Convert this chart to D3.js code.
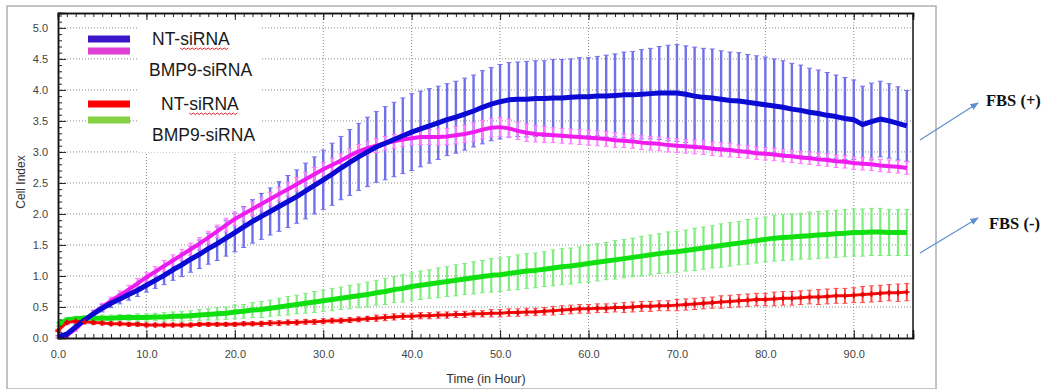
<!DOCTYPE html>
<html>
<head>
<meta charset="utf-8">
<script src="https://cdn.jsdelivr.net/npm/d3@7"></script>
<style>
  html, body { margin: 0; padding: 0; background: #fff; }
  svg { display: block; }
</style>
</head>
<body>
<svg id="chart" width="1052" height="389"></svg>
<script>
// ---------------- DATA ----------------
const hours = d3.range(0, 97, 1); // sampling time (h)

const ntPlusMean = [0.02,0.06,0.18,0.29,0.39,0.48,0.56,0.63,0.70,0.77,
  0.85,0.93,1.01,1.10,1.18,1.27,1.35,1.44,1.52,1.61,
  1.70,1.79,1.88,1.96,2.04,2.12,2.20,2.28,2.37,2.46,
  2.55,2.64,2.74,2.83,2.92,3.00,3.08,3.14,3.20,3.26,
  3.32,3.37,3.42,3.47,3.52,3.56,3.61,3.66,3.72,3.77,
  3.81,3.84,3.85,3.85,3.86,3.86,3.87,3.87,3.88,3.89,
  3.89,3.90,3.90,3.91,3.92,3.92,3.93,3.94,3.95,3.95,
  3.95,3.93,3.90,3.88,3.87,3.85,3.83,3.82,3.80,3.78,
  3.76,3.74,3.72,3.69,3.67,3.64,3.62,3.59,3.57,3.54,
  3.52,3.44,3.49,3.53,3.50,3.46,3.42];
const ntPlusErr = [0.02,0.03,0.03,0.04,0.05,0.06,0.07,0.08,0.09,0.10,
  0.11,0.13,0.15,0.17,0.19,0.21,0.23,0.25,0.27,0.29,
  0.31,0.33,0.35,0.37,0.38,0.40,0.42,0.43,0.45,0.46,
  0.48,0.50,0.51,0.53,0.54,0.56,0.57,0.59,0.60,0.61,
  0.62,0.61,0.60,0.59,0.58,0.58,0.58,0.58,0.59,0.59,
  0.60,0.60,0.60,0.61,0.61,0.61,0.62,0.62,0.62,0.63,
  0.63,0.64,0.66,0.67,0.69,0.70,0.72,0.73,0.75,0.77,
  0.78,0.78,0.79,0.79,0.79,0.78,0.78,0.78,0.77,0.77,
  0.77,0.76,0.75,0.74,0.73,0.71,0.70,0.69,0.67,0.66,
  0.64,0.62,0.62,0.61,0.60,0.59,0.57];

const bmpPlusMean = [0.01,0.04,0.15,0.28,0.40,0.50,0.60,0.69,0.78,0.88,
  0.98,1.07,1.16,1.25,1.34,1.43,1.52,1.62,1.72,1.82,
  1.92,2.00,2.08,2.16,2.24,2.32,2.40,2.48,2.56,2.64,
  2.72,2.79,2.86,2.94,3.01,3.06,3.10,3.14,3.17,3.20,
  3.22,3.24,3.24,3.24,3.25,3.27,3.29,3.32,3.36,3.39,
  3.40,3.38,3.34,3.31,3.29,3.28,3.27,3.26,3.25,3.24,
  3.23,3.22,3.21,3.19,3.18,3.17,3.15,3.14,3.13,3.11,
  3.10,3.09,3.08,3.07,3.05,3.04,3.03,3.01,3.00,2.98,
  2.97,2.96,2.94,2.93,2.91,2.90,2.88,2.87,2.85,2.84,
  2.82,2.81,2.80,2.78,2.77,2.76,2.74];
const bmpPlusErr = [0.02,0.03,0.04,0.05,0.05,0.06,0.06,0.07,0.07,0.08,
  0.08,0.08,0.09,0.09,0.09,0.10,0.10,0.10,0.10,0.11,
  0.11,0.11,0.11,0.11,0.11,0.11,0.11,0.11,0.11,0.11,
  0.11,0.11,0.11,0.11,0.11,0.11,0.11,0.11,0.11,0.11,
  0.11,0.12,0.12,0.13,0.13,0.14,0.14,0.15,0.15,0.15,
  0.15,0.15,0.14,0.14,0.13,0.13,0.12,0.12,0.12,0.12,
  0.12,0.12,0.12,0.12,0.11,0.11,0.11,0.11,0.11,0.11,
  0.11,0.11,0.11,0.11,0.11,0.11,0.11,0.10,0.10,0.10,
  0.10,0.10,0.10,0.10,0.10,0.10,0.10,0.10,0.10,0.10,
  0.10,0.10,0.10,0.10,0.10,0.10,0.10];

const ntMinusMean = [0.12,0.25,0.27,0.26,0.25,0.24,0.23,0.23,0.22,0.22,
  0.21,0.21,0.21,0.21,0.21,0.21,0.22,0.22,0.22,0.22,
  0.22,0.23,0.23,0.23,0.24,0.24,0.25,0.25,0.26,0.26,
  0.27,0.28,0.28,0.29,0.30,0.31,0.32,0.33,0.34,0.35,
  0.35,0.36,0.36,0.37,0.37,0.38,0.38,0.39,0.39,0.40,
  0.40,0.41,0.41,0.42,0.42,0.43,0.44,0.45,0.46,0.47,
  0.47,0.48,0.48,0.49,0.49,0.50,0.51,0.51,0.52,0.52,
  0.53,0.54,0.55,0.56,0.57,0.58,0.59,0.60,0.61,0.62,
  0.62,0.63,0.64,0.64,0.65,0.66,0.66,0.67,0.68,0.68,
  0.69,0.70,0.71,0.72,0.73,0.73,0.74];
const ntMinusErr = [0.02,0.03,0.03,0.03,0.03,0.03,0.03,0.03,0.03,0.03,
  0.03,0.03,0.03,0.03,0.03,0.03,0.03,0.03,0.03,0.03,
  0.03,0.03,0.03,0.04,0.04,0.04,0.04,0.04,0.04,0.04,
  0.04,0.04,0.04,0.04,0.04,0.04,0.05,0.05,0.05,0.05,
  0.05,0.05,0.05,0.05,0.05,0.05,0.05,0.05,0.05,0.06,
  0.06,0.06,0.06,0.06,0.06,0.06,0.07,0.07,0.07,0.07,
  0.07,0.07,0.07,0.07,0.08,0.08,0.08,0.08,0.08,0.08,
  0.09,0.09,0.09,0.09,0.09,0.10,0.10,0.10,0.10,0.10,
  0.10,0.11,0.11,0.11,0.11,0.11,0.12,0.12,0.12,0.12,
  0.12,0.13,0.13,0.13,0.13,0.14,0.14];

const bmpMinusMean = [0.22,0.29,0.31,0.32,0.32,0.32,0.32,0.33,0.33,0.33,
  0.33,0.34,0.34,0.35,0.35,0.36,0.37,0.38,0.39,0.40,
  0.42,0.43,0.45,0.46,0.48,0.50,0.52,0.54,0.56,0.58,
  0.60,0.62,0.64,0.66,0.68,0.70,0.73,0.75,0.78,0.80,
  0.83,0.85,0.87,0.89,0.91,0.93,0.95,0.97,0.99,1.01,
  1.02,1.04,1.06,1.08,1.09,1.11,1.13,1.15,1.16,1.18,
  1.20,1.22,1.24,1.26,1.28,1.30,1.32,1.34,1.36,1.38,
  1.39,1.41,1.43,1.45,1.47,1.49,1.51,1.53,1.55,1.57,
  1.59,1.61,1.62,1.63,1.64,1.65,1.66,1.67,1.68,1.69,
  1.70,1.70,1.71,1.71,1.70,1.70,1.70];
const bmpMinusErr = [0.03,0.04,0.04,0.04,0.04,0.05,0.05,0.05,0.05,0.06,
  0.06,0.06,0.07,0.07,0.08,0.08,0.09,0.09,0.10,0.10,
  0.11,0.11,0.12,0.13,0.13,0.14,0.15,0.15,0.16,0.17,
  0.17,0.18,0.18,0.19,0.19,0.20,0.20,0.21,0.21,0.22,
  0.22,0.23,0.23,0.24,0.24,0.25,0.25,0.26,0.26,0.27,
  0.27,0.27,0.28,0.28,0.28,0.28,0.29,0.29,0.29,0.29,
  0.30,0.30,0.30,0.31,0.31,0.31,0.32,0.32,0.32,0.33,
  0.33,0.33,0.34,0.34,0.34,0.35,0.35,0.35,0.36,0.36,
  0.36,0.37,0.37,0.37,0.37,0.38,0.38,0.38,0.38,0.38,
  0.38,0.38,0.38,0.38,0.37,0.37,0.37];

const xTickLabels = [0, 10, 20, 30, 40, 50, 60, 70, 80, 90];
const yTickLabels = [0, 0.5, 1, 1.5, 2, 2.5, 3, 3.5, 4, 4.5, 5];
const legendNames = ["NT-siRNA", "BMP9-siRNA", "NT-siRNA", "BMP9-siRNA"];
const groupNames = ["FBS (+)", "FBS (-)"];

// ---------------- CHART ----------------
const svg = d3.select("#chart");
const L = 58, R = 913, T = 13, B = 338;
const x = d3.scaleLinear().domain([0, 96.7]).range([L, R]);
const y = d3.scaleLinear().domain([0, 5.24]).range([B, T]);

// outer frame
svg.append("rect").attr("x", 7).attr("y", 6).attr("width", 929).attr("height", 383)
  .attr("fill", "none").attr("stroke", "#b0b0b0").attr("stroke-width", 1.5);

// gridlines
const grid = svg.append("g");
grid.selectAll("line.gy").data(yTickLabels.filter(d => d > 0)).join("line")
  .attr("x1", L).attr("x2", R).attr("y1", d => y(d)).attr("y2", d => y(d))
  .attr("stroke", "#8a8a8a").attr("stroke-width", 1).attr("stroke-dasharray", "1,2");
grid.selectAll("line.gx").data(xTickLabels.filter(d => d > 0)).join("line")
  .attr("y1", T).attr("y2", B).attr("x1", d => x(d)).attr("x2", d => x(d))
  .attr("stroke", "#8a8a8a").attr("stroke-width", 1).attr("stroke-dasharray", "1,2");

// white legend text box
svg.append("rect").attr("x", 138).attr("y", 15).attr("width", 124).attr("height", 137).attr("fill", "#fff");

// series
const series = [
  {mean: ntPlusMean, err: ntPlusErr, line: "#0a0ad2", bar: "#7070ec", w: 5, bw: 2.4},
  {mean: bmpPlusMean, err: bmpPlusErr, line: "#ee1cee", bar: "#ff7cff", w: 4, bw: 2},
  {mean: bmpMinusMean, err: bmpMinusErr, line: "#10e010", bar: "#80ec80", w: 5, bw: 2.2},
  {mean: ntMinusMean, err: ntMinusErr, line: "#ff0a0a", bar: "#ff4a4a", w: 3, bw: 2}
];
const dataG = svg.append("g");
series.forEach(s => {
  const pts = hours.map((h, i) => ({h, m: s.mean[i], e: s.err[i]}));
  const g = dataG.append("g");
  g.selectAll("line.bar").data(pts).join("line")
    .attr("x1", d => x(d.h)).attr("x2", d => x(d.h))
    .attr("y1", d => y(d.m + d.e)).attr("y2", d => y(Math.max(0, d.m - d.e)))
    .attr("stroke", s.bar).attr("stroke-width", s.bw);
  g.selectAll("line.capT").data(pts).join("line")
    .attr("x1", d => x(d.h) - 2.5).attr("x2", d => x(d.h) + 2.5)
    .attr("y1", d => y(d.m + d.e)).attr("y2", d => y(d.m + d.e))
    .attr("stroke", s.bar).attr("stroke-width", 1);
  g.selectAll("line.capB").data(pts).join("line")
    .attr("x1", d => x(d.h) - 2.5).attr("x2", d => x(d.h) + 2.5)
    .attr("y1", d => y(Math.max(0, d.m - d.e))).attr("y2", d => y(Math.max(0, d.m - d.e)))
    .attr("stroke", s.bar).attr("stroke-width", 1);
});
const lineGen = d3.line().x(d => x(d.h)).y(d => y(d.m));
[series[1], series[2], series[3], series[0]].forEach(s => {
  const pts = hours.map((h, i) => ({h, m: s.mean[i]}));
  dataG.append("path").datum(pts).attr("d", lineGen)
    .attr("fill", "none").attr("stroke", s.line).attr("stroke-width", s.w)
    .attr("stroke-linejoin", "round");
});
// red markers
dataG.append("g").selectAll("path").data(hours.map((h, i) => ({h, m: ntMinusMean[i]}))).join("path")
  .attr("d", d3.symbol(d3.symbolCross, 16))
  .attr("transform", d => `translate(${x(d.h)},${y(d.m)})`)
  .attr("fill", "#e00000");

// axes
const axStyle = g => {
  g.select(".domain").attr("stroke", "#111").attr("stroke-width", 1.5);
  g.selectAll(".tick line").attr("stroke", "#222");
  g.selectAll("text").attr("fill", "#444").style("font-family", "Liberation Sans, Arial, sans-serif").style("font-size", "11px");
};
const minorX = d3.range(0, 97, 1);
const minorY = d3.range(0, 5.21, 0.1);
svg.append("g").attr("transform", `translate(0,${B})`)
  .call(d3.axisBottom(x).tickValues(minorX).tickSize(-4).tickFormat("")).call(axStyle);
svg.append("g").attr("transform", `translate(0,${B})`)
  .call(d3.axisBottom(x).tickValues(xTickLabels).tickSize(-8).tickPadding(12).tickFormat(d3.format(".1f"))).call(axStyle);
svg.append("g").attr("transform", `translate(0,${T})`)
  .call(d3.axisTop(x).tickValues(minorX).tickSize(-4).tickFormat("")).call(axStyle);
svg.append("g").attr("transform", `translate(0,${T})`)
  .call(d3.axisTop(x).tickValues(xTickLabels).tickSize(-7).tickFormat("")).call(axStyle);
svg.append("g").attr("transform", `translate(${L},0)`)
  .call(d3.axisLeft(y).tickValues(minorY).tickSize(-4).tickFormat("")).call(axStyle);
svg.append("g").attr("transform", `translate(${L},0)`)
  .call(d3.axisLeft(y).tickValues(yTickLabels).tickSize(-8).tickPadding(10).tickFormat(d3.format(".1f"))).call(axStyle);
svg.append("line").attr("x1", R).attr("x2", R).attr("y1", T).attr("y2", B).attr("stroke", "#111").attr("stroke-width", 1.5);

// axis titles
svg.append("text").attr("transform", "translate(25,182) rotate(-90)").attr("text-anchor", "middle")
  .style("font-family", "Liberation Sans, Arial, sans-serif").style("font-size", "12px").attr("fill", "#333")
  .text("Cell Index");
svg.append("text").attr("x", 486).attr("y", 383).attr("text-anchor", "middle")
  .style("font-family", "Liberation Sans, Arial, sans-serif").style("font-size", "12.5px").attr("fill", "#333")
  .text("Time (in Hour)");

// legend
const swatches = [
  {y: 39, c: "#3a16c8"}, {y: 51, c: "#e040d4"}, {y: 104, c: "#ff0000"}, {y: 120, c: "#84d244"}
];
svg.append("g").selectAll("line").data(swatches).join("line")
  .attr("x1", 88).attr("x2", 130).attr("y1", d => d.y).attr("y2", d => d.y)
  .attr("stroke", d => d.c).attr("stroke-width", 7);
const legTexts = [
  {x: 152, y: 45, t: legendNames[0]}, {x: 149, y: 76, t: legendNames[1]},
  {x: 161, y: 110, t: legendNames[2]}, {x: 152, y: 141, t: legendNames[3]}
];
const lt = svg.append("g").selectAll("text").data(legTexts).join("text")
  .attr("x", d => d.x).attr("y", d => d.y)
  .style("font-family", "Liberation Sans, Arial, sans-serif").style("font-size", "17.5px").attr("fill", "#1a1a1a")
  .text(d => d.t);
// spell-check squiggles under "siRNA" of the NT-siRNA entries
lt.each(function(d, i) {
  if (i !== 0 && i !== 2) return;
  const start = d.t.indexOf("siRNA");
  const x0 = d.x + this.getSubStringLength(0, start);
  const x1 = d.x + this.getComputedTextLength();
  const yy = d.y + 3;
  let p = `M${x0},${yy}`;
  let k = 0;
  for (let xx = x0 + 2; xx <= x1; xx += 2, k++) p += `L${xx},${yy + (k % 2 === 0 ? 1.5 : 0)}`;
  svg.append("path").attr("d", p).attr("fill", "none").attr("stroke", "#e02020").attr("stroke-width", 1);
});

// group annotations with arrows
const defs = svg.append("defs");
defs.append("marker").attr("id", "arr").attr("viewBox", "0 0 10 10").attr("refX", 9).attr("refY", 5)
  .attr("markerWidth", 7).attr("markerHeight", 7).attr("orient", "auto")
  .append("path").attr("d", "M0,1 L10,5 L0,9 z").attr("fill", "#5b8fd0");
const ann = [
  {x1: 920, y1: 140, x2: 978, y2: 103, tx: 986, ty: 106, t: groupNames[0]},
  {x1: 920, y1: 253, x2: 978, y2: 218, tx: 989, ty: 229, t: groupNames[1]}
];
ann.forEach(a => {
  svg.append("line").attr("x1", a.x1).attr("y1", a.y1).attr("x2", a.x2).attr("y2", a.y2)
    .attr("stroke", "#5b8fd0").attr("stroke-width", 1.2).attr("marker-end", "url(#arr)");
  svg.append("text").attr("x", a.tx).attr("y", a.ty)
    .style("font-family", "Liberation Serif, Times New Roman, serif").style("font-size", "16.5px")
    .style("font-weight", "bold").attr("fill", "#111").text(a.t);
});
</script>
</body>
</html>
